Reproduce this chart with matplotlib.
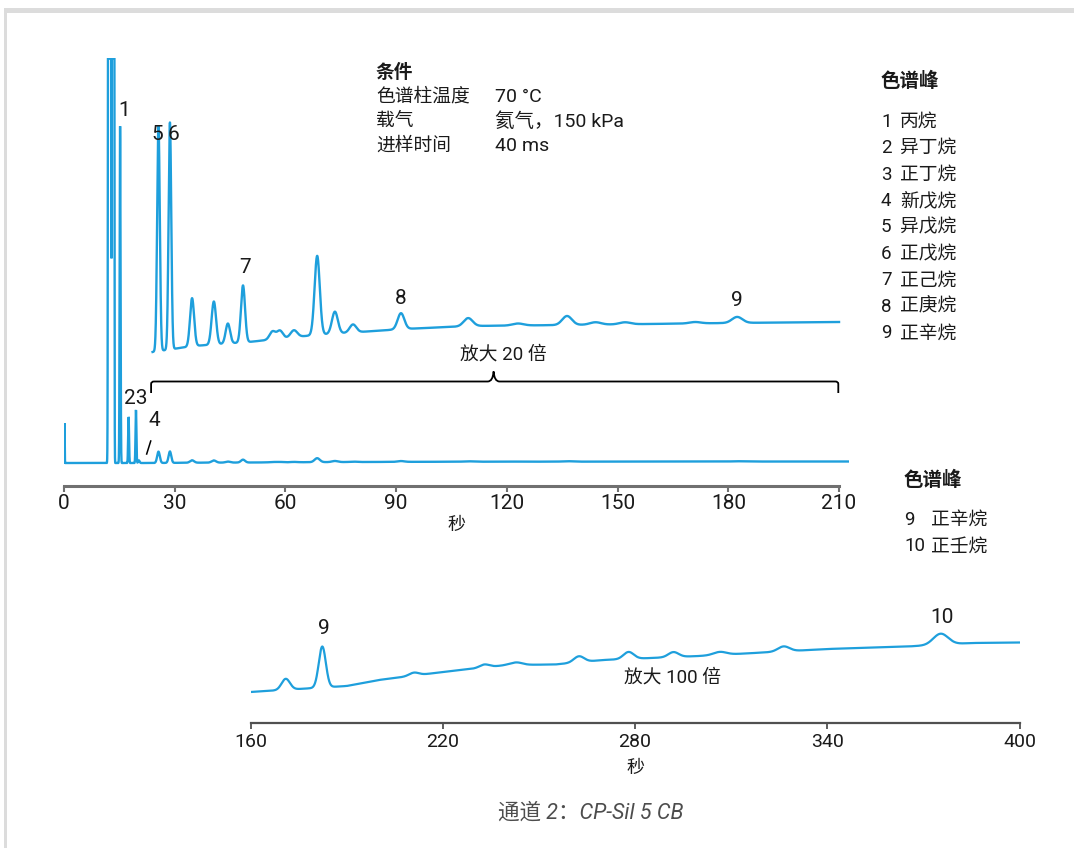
import numpy as np
import matplotlib
matplotlib.use("Agg")
import matplotlib.pyplot as plt
from matplotlib.path import Path
from matplotlib.patches import PathPatch, Rectangle

plt.rcParams['font.family'] = ['Roboto', 'Noto Sans CJK SC', 'DejaVu Sans']

# ---------------- data ----------------
# main chromatogram (1x units): retention time (s), height, sigma (s)
MAIN_T = [0.15, 12.35, 13.3, 15.2, 17.5, 19.5, 20.3, 25.6, 28.7, 34.7, 40.6, 44.4, 48.5,
          56.5, 58.5, 62.3, 68.6, 73.4, 78.3, 91.3, 109.5, 123.0, 136.3, 144.0, 152.0,
          171.0, 182.4]
MAIN_H = [40, 5e4, 5e4, 337, 46, 53, 2.5, 11.25, 11.35, 2.4, 2.15, 1.0, 2.85,
          0.4, 0.4, 0.35, 3.95, 1.1, 0.4, 0.8, 0.4, 0.1, 0.45, 0.12, 0.1,
          0.07, 0.3]
MAIN_S = [0.05, 0.15, 0.12, 0.12, 0.12, 0.12, 0.2, 0.36, 0.36, 0.55, 0.6, 0.6, 0.55,
          0.8, 0.8, 0.9, 0.7, 0.8, 0.9, 0.9, 1.2, 1.5, 1.3, 1.5, 1.5,
          1.5, 1.4]
DRIFT_T = [24, 35, 50, 68, 92, 110, 136, 180, 210]
DRIFT_V = [0, 0.3, 0.5, 0.85, 1.15, 1.3, 1.35, 1.45, 1.5]
SATURATION = 404.3
MAG_20 = 20
OFFSET_20 = 111

# late window (100x units)
LATE_T = [171, 182.4, 211, 233, 243, 262.5, 278, 292, 306.5, 326.4, 375.4]
LATE_H = [11, 41, 3, 3, 2.5, 6, 7, 5, 3, 5, 11]
LATE_S = [1.3, 1.1, 1.5, 1.5, 1.8, 1.6, 1.6, 1.6, 2.0, 1.8, 2.3]
LATE_BASE_T = [160, 175, 190, 200, 220, 240, 255, 270, 285, 300, 320, 340, 365, 385, 400]
LATE_BASE_V = [31, 34, 37, 43, 51, 58, 58.5, 63, 65, 67, 70.5, 74, 76.5, 80, 80.5]

TOP_TICKS = [0, 30, 60, 90, 120, 150, 180, 210]
BOT_TICKS = [160, 220, 280, 340, 400]

PEAK_NUMS = ['1', '2', '3', '4', '5', '6', '7', '8', '9']
PEAK_NAMES = ['丙烷', '异丁烷', '正丁烷', '新戊烷', '异戊烷', '正戊烷', '正己烷', '正庚烷', '正辛烷']
PEAK2_NUMS = ['9', '10']
PEAK2_NAMES = ['正辛烷', '正壬烷']

COND_LABELS = ['色谱柱温度', '载气', '进样时间']
COND_VALUES = ['70 °C', '氦气，150 kPa', '40 ms']

# ---------------- helpers ----------------
W, H = 1074, 848
LINE = '#1e9fdc'
TXT = '#1a1a1a'
AXC = '#707070'


def fx(x):
    return x / W


def fy(y):
    return 1 - y / H


def peaks(t, cs, hs, ss):
    out = np.zeros_like(t)
    for c, h, s in zip(cs, hs, ss):
        out += h * np.exp(-0.5 * ((t - c) / s) ** 2)
    return out


fig = plt.figure(figsize=(W / 100, H / 100), dpi=100)
fig.patch.set_facecolor('white')

# frame
fig.patches.append(Rectangle((fx(4), fy(13)), 1 - fx(4), fy(7.5) - fy(13), transform=fig.transFigure,
                             facecolor='#dcdcdc', edgecolor='none'))
fig.patches.append(Rectangle((fx(4), 0), fx(7) - fx(4), fy(7.5), transform=fig.transFigure,
                             facecolor='#dcdcdc', edgecolor='none'))

# ---------------- top panel ----------------
ax1 = fig.add_axes([fx(64), fy(485.5), fx(849) - fx(64), fy(57.5) - fy(485.5)])
ax1.set_xlim(0, 212.7)
ax1.set_ylim(-22.5, 405.5)

t1 = np.linspace(0, 212.7, 16000)
sig = peaks(t1, MAIN_T, MAIN_H, MAIN_S) + np.interp(t1, DRIFT_T, DRIFT_V)
ax1.plot(t1, np.minimum(sig, SATURATION), color=LINE, lw=1.7, solid_joinstyle='miter')

t20 = np.linspace(DRIFT_T[0], DRIFT_T[-1], 12000)
sig20 = OFFSET_20 + MAG_20 * (peaks(t20, MAIN_T, MAIN_H, MAIN_S) + np.interp(t20, DRIFT_T, DRIFT_V))
ax1.plot(t20, sig20, color=LINE, lw=1.7)

for sp in ['top', 'right', 'left']:
    ax1.spines[sp].set_visible(False)
ax1.spines['bottom'].set_color(AXC)
ax1.spines['bottom'].set_linewidth(2.2)
ax1.spines['bottom'].set_bounds(0, 210)
ax1.set_yticks([])
ax1.set_xticks(TOP_TICKS)
ax1.set_xticklabels([str(v) for v in TOP_TICKS])
ax1.tick_params(axis='x', direction='out', length=4, width=1.5, color=AXC, labelsize=15,
                labelcolor=TXT, pad=2)
ax1.set_xlabel('秒', fontsize=13, color=TXT, labelpad=2)
ax1.patch.set_alpha(0)

# peak labels
lab_kw = dict(fontsize=15, color=TXT, ha='center', va='center')
ax1.text(16.2, 352.5, '1', **lab_kw)
ax1.text(25.3, 328, '5', **lab_kw)
ax1.text(29.6, 328, '6', **lab_kw)
ax1.text(49.0, 195.5, '7', **lab_kw)
ax1.text(91.3, 165, '8', **lab_kw)
ax1.text(182.4, 163, '9', **lab_kw)
ax1.text(19.5, 64, '23', **lab_kw)
ax1.text(24.4, 43, '4', **lab_kw)
ax1.plot([22.4, 23.5], [9, 22], color='black', lw=1.1)

# bracket for 20x trace
x0, x1 = DRIFT_T[0] - 0.4, DRIFT_T[-1] - 0.2
tc = (x0 + x1) / 2 - 0.3
yb, yh, yp = 81.5, 70, 91.5
verts = [(x0, yh), (x0, yb - 2.5), (x0, yb), (x0 + 0.8, yb),
         (tc - 1.6, yb), (tc - 0.2, yb), (tc, yp), (tc + 0.2, yb), (tc + 1.6, yb),
         (x1 - 0.8, yb), (x1, yb), (x1, yb - 2.5), (x1, yh)]
codes = [Path.MOVETO, Path.LINETO, Path.CURVE3, Path.CURVE3,
         Path.LINETO, Path.CURVE3, Path.CURVE3, Path.CURVE3, Path.CURVE3,
         Path.LINETO, Path.CURVE3, Path.CURVE3, Path.LINETO]
ax1.add_patch(PathPatch(Path(verts, codes), facecolor='none', edgecolor='black', lw=1.3))
ax1.text(119, 108, '放大 20 倍', fontsize=13.5, color=TXT, ha='center', va='center')

# ---------------- bottom panel ----------------
ax2 = fig.add_axes([fx(250.5), fy(723), fx(1019.5) - fx(250.5), fy(600) - fy(723)])
ax2.set_xlim(160, 400)
ax2.set_ylim(0, 123)
t2 = np.linspace(160, 400, 6000)
sig2 = peaks(t2, LATE_T, LATE_H, LATE_S) + np.interp(t2, LATE_BASE_T, LATE_BASE_V)
ax2.plot(t2, sig2, color=LINE, lw=1.6)
for sp in ['top', 'right', 'left']:
    ax2.spines[sp].set_visible(False)
ax2.spines['bottom'].set_color('#505050')
ax2.spines['bottom'].set_linewidth(1.6)
ax2.set_yticks([])
ax2.set_xticks(BOT_TICKS)
ax2.set_xticklabels([str(v) for v in BOT_TICKS])
ax2.tick_params(axis='x', direction='out', length=4, width=1.3, color='#505050', labelsize=14,
                labelcolor=TXT, pad=3)
ax2.set_xlabel('秒', fontsize=13, color=TXT, labelpad=6)
ax2.patch.set_alpha(0)
ax2.text(182.9, 94.7, '9', **lab_kw)
ax2.text(375.8, 105.7, '10', **lab_kw)
ax2.text(291.6, 45.7, '放大 100 倍', fontsize=13.5, color=TXT, ha='center', va='center')

# ---------------- conditions ----------------
fig.text(fx(376), fy(73), '条件', fontsize=13.5, fontweight='bold', color=TXT, va='center', ha='left')
for i, (lab, val) in enumerate(zip(COND_LABELS, COND_VALUES)):
    y = 97 + 24.3 * i
    fig.text(fx(376), fy(y), lab, fontsize=13.5, color=TXT, va='center', ha='left')
    fig.text(fx(495), fy(y), val, fontsize=14, color=TXT, va='center', ha='left')

# ---------------- legends ----------------
fig.text(fx(881), fy(81), '色谱峰', fontsize=14, fontweight='bold', color=TXT, va='center', ha='left')
for i, (n, name) in enumerate(zip(PEAK_NUMS, PEAK_NAMES)):
    y = 121.7 + 26.45 * i
    fig.text(fx(881), fy(y), n, fontsize=13.5, color=TXT, va='center', ha='left')
    fig.text(fx(900), fy(y), name, fontsize=13.5, color=TXT, va='center', ha='left')

fig.text(fx(904), fy(480), '色谱峰', fontsize=14, fontweight='bold', color=TXT, va='center', ha='left')
for i, (n, name) in enumerate(zip(PEAK2_NUMS, PEAK2_NAMES)):
    y = 520 + 26.45 * i
    fig.text(fx(904), fy(y), n, fontsize=13.5, color=TXT, va='center', ha='left')
    fig.text(fx(931), fy(y), name, fontsize=13.5, color=TXT, va='center', ha='left')

# caption
fig.text(fx(591), fy(813), '通道 2：CP-Sil 5 CB', fontsize=15.5, style='italic', color='#4d4d4d',
         va='center', ha='center')

fig.savefig('out.png', dpi=100)
